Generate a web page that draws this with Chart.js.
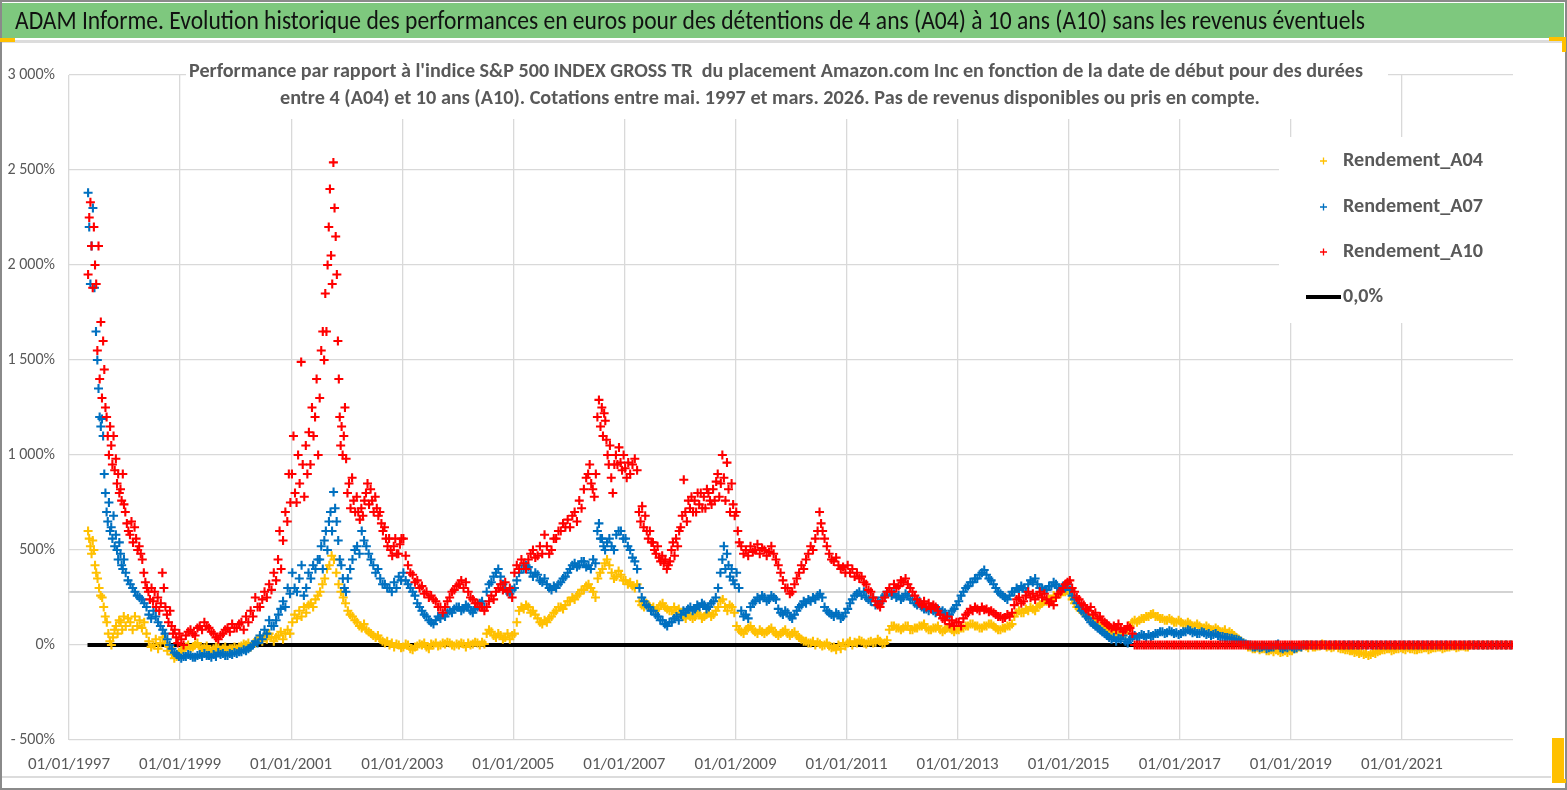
<!DOCTYPE html>
<html><head><meta charset="utf-8">
<script src="https://cdn.jsdelivr.net/npm/chart.js@4.4.1/dist/chart.umd.min.js"></script>
<style>html,body{margin:0;padding:0;background:#fff;}canvas{display:block;}</style>
</head><body>
<canvas id="c" width="1567" height="790"></canvas>
<script>
const FONT = "Carlito, 'Liberation Sans Narrow', 'DejaVu Sans Condensed', Lato, sans-serif";
const mainTitle = "ADAM Informe. Evolution historique des performances en euros pour des détentions de 4 ans (A04) à 10 ans (A10) sans les revenus éventuels";
const subTitle = [
  "Performance par rapport à l'indice S&P 500 INDEX GROSS TR  du placement Amazon.com Inc en fonction de la date de début pour des durées",
  "entre 4 (A04) et 10 ans (A10). Cotations entre mai. 1997 et mars. 2026. Pas de revenus disponibles ou pris en compte."
];
const seriesNames = ["Rendement_A04", "Rendement_A07", "Rendement_A10"];
const zeroName = "0,0%";
const seriesColors = ["#FFC000", "#0070C0", "#FF0000"];

// categories: one entry per month from May 1997 to Dec 2022
const firstYear = 1997, firstMonth = 5, monthCount = 308;
const dates = [];
for (let i = 0; i < monthCount; i++) {
  const m = firstMonth - 1 + i;
  dates.push((firstYear + Math.floor(m / 12)) + "-" + String(m % 12 + 1).padStart(2, "0"));
}

const xTickValues = [1997, 1999, 2001, 2003, 2005, 2007, 2009, 2011, 2013, 2015, 2017, 2019, 2021, 2023];
const xTickLabels = ["01/01/1997", "01/01/1999", "01/01/2001", "01/01/2003", "01/01/2005", "01/01/2007", "01/01/2009", "01/01/2011", "01/01/2013", "01/01/2015", "01/01/2017", "01/01/2019", "01/01/2021", ""];
const yTickValues = [-500, 0, 500, 1000, 1500, 2000, 2500, 3000];
const yTickLabels = ["- 500%", "0%", "500%", "1 000%", "1 500%", "2 000%", "2 500%", "3 000%"];
const refLevel = 279;

// monthly readings (%), several readings when the month is volatile
const rendA04 = [
  [600,560,520,480],[550,500,420,380],[350,300,260],[250,200,150],[120,60,20],[0,40,80],[100,60,130],[120,80,150],
  [100,140],[120,80],[150,100],[130,90],[120,60],[20,-10],[0,30],[-20,10],[40,10],[-30,-10],[-50,-70],[-60,-40],
  [-30,-20],[-10,0],[-20,-10],[0,10],[-10,-20],[-15,-5],[-25,-35],[-20,-10],[-10,-30],[-20,-10],[-30,-20],[-20,-10],
  [-20,-10],[-5,5],[0,10],[-10,5],[10,30],[40,20],[50,30],[60,40],[20,40],[50,70],[30,60],[80,60],
  [120,160],[140,180],[150,200],[170,210],[220,200],[240,260],[280,320],[350,400],[420,470],[450,380],[320,280],[250,220],
  [180,160],[150,130],[120,100],[90,110],[80,70],[60,50],[40,50],[30,20],[10,20],[0,10],[-10,5],[0,-15],
  [-10,5],[0,-20],[-25,-10],[-5,5],[0,10],[-10,-20],[5,0],[10,-5],[0,10],[5,15],[10,0],[-5,5],
  [0,10],[5,-10],[10,0],[5,15],[10,0],[15,5],[60,80],[70,50],[40,60],[50,30],[40,60],[30,50],
  [60,120],[180,200],[190,210],[200,170],[180,160],[140,120],[110,130],[120,140],[150,170],[180,200],[200,190],[210,230],
  [230,250],[240,260],[270,290],[290,310],[320,300],[280,250],[350,380],[400,430],[450,420],[380,350],[360,390],[370,340],
  [340,320],[330,310],[300,320],[230,210],[200,220],[210,190],[200,180],[190,210],[220,200],[190,180],[180,200],[170,190],
  [170,150],[140,160],[150,140],[150,170],[160,140],[150,160],[170,150],[160,180],[200,230],[240,200],[180,210],[200,170],
  [100,80],[70,60],[80,90],[100,80],[70,60],[80,70],[60,70],[80,90],[70,60],[50,60],[70,80],[60,50],
  [60,70],[50,40],[30,20],[20,10],[10,20],[0,15],[5,-5],[0,10],[-5,-15],[-10,-25],[0,-20],[10,-5],
  [10,20],[0,15],[10,25],[20,10],[5,15],[20,10],[15,30],[20,5],[10,25],[80,100],[100,90],[90,80],
  [90,100],[100,80],[80,90],[90,100],[100,110],[90,80],[80,90],[90,100],[80,70],[80,90],[90,80],[70,80],
  [80,90],[90,100],[100,110],[110,100],[100,90],[90,100],[100,110],[110,100],[90,80],[80,90],[90,100],[100,110],
  [150,170],[180,170],[170,190],[180,200],[190,180],[200,210],[220,230],[230,240],[240,260],[250,270],[270,280],[280,290],
  [270,240],[220,200],[190,180],[170,160],[150,140],[130,120],[110,100],[100,90],[80,70],[60,70],[60,50],[50,60],
  [60,80],[100,120],[130,120],[130,140],[140,150],[150,160],[165,150],[150,140],[140,130],[130,140],[130,120],[120,130],
  [120,110],[110,120],[110,100],[100,110],[100,90],[90,100],[90,80],[80,90],[80,70],[70,80],[60,70],[60,50],
  [40,30],[20,10],[0,-10],[-10,-20],[-20,-15],[-25,-20],[-20,-30],[-30,-25],[-35,-25],[-30,-40],[-35,-30],[-40,-30],
  [-30,-20],[-20,-10],[-10,0],[-5,-15],[0,-10],[-10,-5],[-5,5],[0,-10],[-5,-15],[-10,0],[-15,-20],[-20,-25],
  [-25,-30],[-30,-40],[-35,-45],[-40,-50],[-45,-55],[-50,-40],[-45,-35],[-30,-25],[-25,-20],[-20,-30],[-25,-20],[-20,-15],
  [-20,-25],[-15,-20],[-20,-25],[-25,-20],[-20,-15],[-15,-25],[-20,-15],[-15,-10],[-10,-20],[-15,-10],[-10,-5],[-5,-15],
  [-10,-5],[-5,-10],[-10,0],0,0,0,0,0,0,0,0,0
];

const rendA07 = [
  [2380,2200,1900,2100],[2300,1880,1650],[1500,1350,1200,1150],[1190,1100,900,800],[700,650,750,600],[620,560,680,520],[580,500,450,540],[480,420,400,450],
  [380,340],[320,300],[280,260],[250,240],[220,200],[160,140],[180,150],[120,100],[80,60],[30,0],[-20,-40],[-50,-60],
  [-70,-60],[-60,-50],[-55,-65],[-65,-55],[-50,-60],[-45,-55],[-55,-65],[-50,-60],[-40,-50],[-45,-55],[-55,-45],[-50,-40],
  [-45,-35],[-35,-25],[-30,-20],[-10,0],[20,10],[50,30],[80,60],[130,100],[100,130],[160,190],[230,200],[300,270],
  [380,300],[280,350],[420,260],[300,380],[350,420],[400,450],[450,520,400],[550,600,500],[650,700,600],[805,720,650],[550,450,420],[350,300,280],
  [350,400],[450,500],[520,480],[600,550],[520,480],[450,420],[380,400],[350,320],[320,300],[300,280],[330,300],[360,340],
  [380,340],[320,300],[280,260],[220,200],[180,160],[150,130],[120,110],[130,150],[140,160],[150,170],[180,170],[190,200],
  [200,180],[190,210],[200,180],[170,190],[200,220],[230,200],[280,320],[330,360],[380,400],[360,320],[300,280],[270,290],
  [300,340],[380,400],[400,420],[410,380],[360,380],[370,340],[330,350],[320,300],[290,310],[300,320],[330,350],[360,380],
  [400,420],[430,410],[420,440],[440,410],[420,400],[450,430],[600,640,560],[560,520,500],[540,560],[520,500],[580,600],[600,560],
  [560,520],[500,460],[440,400],[300,250],[230,210],[200,180],[180,160],[150,130],[130,110],[100,120],[120,140],[150,130],
  [160,180],[170,190],[200,180],[190,210],[200,220],[210,190],[200,220],[230,250],[300,380],[450,520,400],[480,420,360],[400,340,320],
  [380,300],[180,150],[160,140],[200,220],[230,250],[240,260],[250,230],[240,260],[250,240],[190,170],[160,180],[170,150],
  [140,160],[180,200],[210,230],[220,240],[230,250],[240,260],[270,250],[200,180],[170,160],[150,170],[160,140],[150,170],
  [190,220],[240,260],[270,280],[260,280],[250,240],[230,250],[210,230],[220,250],[260,280],[280,260],[270,250],[260,240],
  [250,270],[260,240],[240,220],[210,230],[200,190],[190,180],[200,180],[170,190],[160,180],[170,150],[160,180],[190,210],
  [230,260],[280,300],[310,330],[330,350],[350,370],[380,395],[370,350],[340,320],[300,280],[270,260],[250,240],[260,280],
  [280,300],[290,310],[300,280],[320,340],[330,350],[320,300],[300,290],[290,310],[310,330],[320,300],[290,310],[300,320],
  [290,260],[240,220],[200,180],[170,150],[140,120],[110,100],[90,80],[70,60],[50,40],[30,40],[20,35],[30,50],
  [20,10],[30,40],[50,40],[45,55],[50,40],[55,45],[50,60],[60,70],[70,60],[65,75],[70,60],[65,55],
  [60,70],[70,80],[75,65],[70,60],[60,70],[65,55],[60,50],[55,60],[50,45],[45,40],[40,35],[35,30],
  [30,25],[20,10],[5,0],[0,-10],[-10,-5],[-15,-10],[-5,-20],[-15,-10],[-10,0],[5,-15],[-20,-10],[-15,-5],
  [-10,-20],[-15,-5],[-10,0],0,0,0,0,0,0,0,0,0,
  0,0,0,0,0,0,0,0,0,0,0,0,
  0,0,0,0,0,0,0,0,0,0,0,0,
  0,0,0,0,0,0,0,0,0,0,0,0
];

const rendA10 = [
  [1950,2250,2330,2100],[1880,2200,2000,1900],[1550,2100,1400,1700],[1300,1600,1450,1250],[1200,1100,1000,1150],[1050,950,1100,920],[980,850,900,800],[820,760,900,740],
  [700,640,600],[580,650,540],[620,560,500],[520,480,450],[380,330,300],[280,240,300],[230,280,200],[250,180,220],[380,300,200],[160,120,180],[100,60,80],[40,10,60],
  [30,0],[50,70],[80,60],[50,90],[100,80],[120,100],[90,70],[60,40],[30,50],[60,80],[90,70],[110,90],
  [90,110],[120,80],[150,120],[180,150],[250,200],[200,240],[280,250],[320,290],[380,340],[450,600,400],[550,700],[650,900,750],
  [900,1100,800],[750,1000,850],[1490,950,780],[1050,900,1120],[950,1250,1100],[1200,1400,1000],[1300,1550,1650],[1500,1850,1650,2000],[2200,2400,2050,1900],[2540,2300,2150,1950],[1600,1400,1200,1050,1150],[1000,1100,1250,980],
  [800,850,720],[880,760,700],[780,700,660],[720,680,760],[800,850,740],[820,760,700],[780,720,680],[700,640,600],[620,560,520],[560,500,470],[520,560,480],[480,530,560],
  [560,470],[420,380],[370,330],[340,300],[310,270],[280,250],[260,240],[230,200],[200,170],[200,230],[250,280],[290,310],
  [320,340],[300,330],[280,250],[240,220],[220,200],[200,180],[200,230],[260,240],[280,300],[320,290],[330,280],[300,250],
  [380,420],[400,450],[430,400],[450,480],[500,460],[470,520],[480,580],[520,480],[500,560],[560,600],[600,640],[620,660],
  [620,680],[700,650],[760,720],[820,880],[900,950,850],[820,780,900],[1200,1290,1150],[1250,1100,1220,1180],[1080,1000,950,1050],[880,800,950],[1000,950,1040],[960,920,1000],
  [930,880,960],[900,950],[980,920],[700,650,730],[620,680,600],[560,600,540],[540,500,480],[520,460,440],[470,430,450],[400,420,440],[500,540,470],[560,520,600],
  [620,680,870],[700,650,760],[720,780,700],[760,700,800],[740,800,720],[780,720,820],[800,760,740],[820,760,860],[900,780,850],[1000,880,760],[960,820,700],[850,740,680],
  [700,600,540],[520,480],[500,470],[520,490],[500,530],[480,510],[500,470],[490,520],[480,450],[420,380],[340,300],[300,270],
  [280,320],[350,380],[420,400],[450,480],[520,500],[560,600],[700,640,600],[560,520],[480,450],[440,460],[420,400],[410,380],
  [420,380],[400,360],[380,350],[360,330],[320,290],[280,250],[230,210],[200,230],[250,280],[300,280],[320,300],[310,340],
  [330,350],[320,300],[280,260],[240,220],[210,230],[200,220],[190,210],[200,180],[160,140],[130,150],[110,130],[100,120],
  [120,100],[140,160],[170,190],[180,200],[190,180],[200,185],[190,175],[180,170],[160,150],[150,140],[145,160],[150,170],
  [210,240],[250,220],[230,260],[280,250],[270,240],[260,280],[250,270],[240,220],[230,210],[250,270],[280,300],[320,330],
  [340,300],[280,250],[240,220],[210,190],[180,200],[160,170],[140,150],[130,120],[110,100],[90,100],[80,110],[90,70],
  [80,100],[90,60],[0,0],[0,0],[0,0],[0,0],[0,0],[0,0],[0,0],[0,0],[0,0],[0,0],
  [0,0],[0,0],[0,0],[0,0],[0,0],[0,0],[0,0],[0,0],[0,0],[0,0],[0,0],[0,0],
  [0,0],[0,0],[0,0],[0,0],[0,0],[0,0],[0,0],[0,0],[0,0],[0,0],[0,0],[0,0],
  [0,0],[0,0],[0,0],[0,0],[0,0],[0,0],[0,0],[0,0],[0,0],[0,0],[0,0],[0,0],
  [0,0],[0,0],[0,0],[0,0],[0,0],[0,0],[0,0],[0,0],[0,0],[0,0],[0,0],[0,0],
  [0,0],[0,0],[0,0],[0,0],[0,0],[0,0],[0,0],[0,0],[0,0],[0,0],[0,0],[0,0],
  [0,0],[0,0],[0,0],[0,0],[0,0],[0,0],[0,0],[0,0],[0,0],[0,0],[0,0],[0,0]
];

function dateToYear(d) {
  const [y, m] = d.split("-").map(Number);
  return y + (m - 1) / 12;
}
function buildPoints(series) {
  const pts = [];
  series.forEach((entry, i) => {
    if (i >= dates.length) return;
    const vals = Array.isArray(entry) ? entry : [entry];
    const t0 = dateToYear(dates[i]);
    vals.forEach((v, j) => pts.push({ x: t0 + (j + 0.5) / (vals.length * 12), y: v }));
  });
  return pts;
}

function fitText(ctx, text, x, y, targetW, font, color, align) {
  ctx.save();
  ctx.font = font;
  ctx.fillStyle = color;
  ctx.textBaseline = "middle";
  ctx.textAlign = "left";
  const w = ctx.measureText(text).width;
  const s = Math.max(0.6, Math.min(1.25, targetW / w));
  const left = align === "center" ? x - (w * s) / 2 : x;
  ctx.translate(left, y);
  ctx.scale(s, 1);
  ctx.fillText(text, 0, 0);
  ctx.restore();
}

const deco = {
  id: "deco",
  beforeDraw(chart) {
    const ctx = chart.ctx, W = chart.width, H = chart.height;
    ctx.save();
    ctx.fillStyle = "#ffffff"; ctx.fillRect(0, 0, W, H);
    ctx.fillStyle = "#7ec87e"; ctx.fillRect(2, 3, W - 5, 35);
    ctx.fillStyle = "#dcdcdc"; ctx.fillRect(2, 40, W - 4, 3); ctx.fillRect(2, 776, W - 18, 2);
    ctx.strokeStyle = "#8a8a8a"; ctx.lineWidth = 2; ctx.strokeRect(1, 1, W - 2, H - 2);
    ctx.fillStyle = "#ffc000";
    ctx.fillRect(0, 38, 15, 4);
    ctx.fillRect(1549, 37, 17, 4); ctx.fillRect(1562, 37, 4, 15);
    ctx.fillRect(1552, 738, 12, 45); ctx.fillRect(1552, 779, 14, 4);
    ctx.restore();
    fitText(ctx, mainTitle, 15, 22, 1350, "26px " + FONT, "#111111", "left");
  },
  beforeDatasetsDraw(chart) {
    const ctx = chart.ctx;
    ctx.save();
    ctx.fillStyle = "#ffffff";
    ctx.fillRect(186, 52, 1202, 67);
    ctx.fillRect(1279, 137, 240, 186);
    ctx.restore();
    fitText(ctx, subTitle[0], 776, 72, 1174, "bold 21px " + FONT, "#595959", "center");
    fitText(ctx, subTitle[1], 770, 99, 980, "bold 21px " + FONT, "#595959", "center");
    // legend
    const ys = [161, 207, 252];
    ys.forEach((y, i) => {
      ctx.save();
      ctx.strokeStyle = seriesColors[i]; ctx.lineWidth = 1.3;
      ctx.beginPath();
      ctx.moveTo(1320, y); ctx.lineTo(1327, y);
      ctx.moveTo(1323.5, y - 3.5); ctx.lineTo(1323.5, y + 3.5);
      ctx.stroke();
      ctx.restore();
      fitText(ctx, seriesNames[i], 1343, y, 140, "bold 20px " + FONT, "#595959", "left");
    });
    ctx.save();
    ctx.strokeStyle = "#000"; ctx.lineWidth = 4;
    ctx.beginPath(); ctx.moveTo(1306, 297); ctx.lineTo(1341, 297); ctx.stroke();
    ctx.restore();
    fitText(ctx, zeroName, 1343, 297, 40, "bold 20px " + FONT, "#595959", "left");
  }
};

const markerOpts = (i) => ({
  pointStyle: "cross", pointRadius: 4.5, pointHoverRadius: 4.5, pointBorderWidth: 2.1,
  borderColor: seriesColors[i], backgroundColor: seriesColors[i], showLine: false
});

const chart = new Chart(document.getElementById("c"), {
  type: "scatter",
  data: {
    datasets: [
      Object.assign({ label: seriesNames[0], data: buildPoints(rendA04), order: 3 }, markerOpts(0)),
      Object.assign({ label: seriesNames[1], data: buildPoints(rendA07), order: 2 }, markerOpts(1)),
      Object.assign({ label: seriesNames[2], data: buildPoints(rendA10), order: 1 }, markerOpts(2)),
      { type: "line", label: zeroName, data: [{ x: dateToYear(dates[0]), y: 0 }, { x: xTickValues[xTickValues.length - 1], y: 0 }],
        borderColor: "#000000", borderWidth: 4, pointRadius: 0, order: 5 },
      { type: "line", label: "ref", data: [{ x: xTickValues[0], y: refLevel }, { x: xTickValues[xTickValues.length - 1], y: refLevel }],
        borderColor: "#c4c4c4", borderWidth: 1.5, pointRadius: 0, order: 6 }
    ]
  },
  options: {
    responsive: false,
    animation: false,
    layout: { padding: { top: 75, right: 54, bottom: 0, left: 0 } },
    plugins: { legend: { display: false }, tooltip: { enabled: false }, title: { display: false } },
    scales: {
      x: {
        type: "linear", min: xTickValues[0], max: xTickValues[xTickValues.length - 1],
        afterBuildTicks: (s) => { s.ticks = xTickValues.map(v => ({ value: v })); },
        afterFit: (s) => { s.height = 50; },
        border: { display: false },
        grid: { drawTicks: false, color: (c) => (c.tick && c.tick.value === 2023) ? "rgba(0,0,0,0)" : "#d9d9d9", lineWidth: 1.3 },
        ticks: { padding: 15, maxRotation: 0, autoSkip: false, color: "#595959", font: { family: FONT, size: 17 },
          callback: (v) => { const k = xTickValues.indexOf(v); return k >= 0 ? xTickLabels[k] : ""; } }
      },
      y: {
        min: yTickValues[0], max: yTickValues[yTickValues.length - 1],
        afterBuildTicks: (s) => { s.ticks = yTickValues.map(v => ({ value: v })); },
        afterFit: (s) => { s.width = 69; },
        border: { display: false },
        grid: { drawTicks: false, color: "#d9d9d9", lineWidth: 1.3 },
        ticks: { padding: 14, color: "#595959", font: { family: FONT, size: 16 },
          callback: (v) => { const k = yTickValues.indexOf(v); return k >= 0 ? yTickLabels[k] : ""; } }
      }
    }
  },
  plugins: [deco]
});
</script>
</body></html>
